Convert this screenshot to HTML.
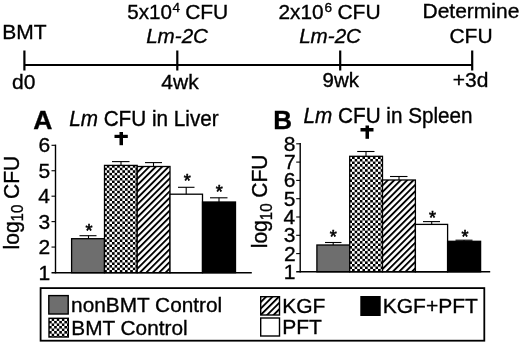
<!DOCTYPE html>
<html><head><meta charset="utf-8"><style>
html,body{margin:0;padding:0;background:#fff;width:520px;height:345px;overflow:hidden}
svg{display:block;will-change:transform}
text{font-family:"Liberation Sans",sans-serif;fill:#000;stroke:#000;stroke-width:0.35px}
.it{font-style:italic}
.bd{font-weight:bold}
</style></head><body>
<svg width="520" height="345" viewBox="0 0 520 345">
<defs>
<pattern id="chkA" patternUnits="userSpaceOnUse" width="5.2" height="5.12" x="0.2" y="3.88">
<rect width="5.2" height="5.12" fill="#fff"/>
<rect width="2.6" height="2.56" fill="#000"/>
<rect x="2.6" y="2.56" width="2.6" height="2.56" fill="#000"/>
</pattern>
<pattern id="chkB" patternUnits="userSpaceOnUse" width="5.2" height="5.12" x="1.05" y="0.25">
<rect width="5.2" height="5.12" fill="#fff"/>
<rect width="2.6" height="2.56" fill="#000"/>
<rect x="2.6" y="2.56" width="2.6" height="2.56" fill="#000"/>
</pattern>
<pattern id="chkL" patternUnits="userSpaceOnUse" width="5.1" height="5.1" x="3.2" y="4.7">
<rect width="5.1" height="5.1" fill="#fff"/>
<rect width="2.55" height="2.55" fill="#000"/>
<rect x="2.55" y="2.55" width="2.55" height="2.55" fill="#000"/>
</pattern>
<pattern id="hatA" patternUnits="userSpaceOnUse" width="4.545" height="10" x="4.385" patternTransform="rotate(45)">
<rect width="4.545" height="10" fill="#fff"/>
<rect width="1.9" height="10" fill="#000"/>
</pattern>
<pattern id="hatB" patternUnits="userSpaceOnUse" width="4.545" height="10" x="0.73" patternTransform="rotate(45)">
<rect width="4.545" height="10" fill="#fff"/>
<rect width="1.9" height="10" fill="#000"/>
</pattern>
<pattern id="hatL" patternUnits="userSpaceOnUse" width="4.545" height="10" x="1.63" patternTransform="rotate(45)">
<rect width="4.545" height="10" fill="#fff"/>
<rect width="1.9" height="10" fill="#000"/>
</pattern>
</defs>
<line x1="24.4" y1="65" x2="472.2" y2="65" stroke="#000" stroke-width="2.2"/>
<line x1="24.4" y1="50.5" x2="24.4" y2="70.5" stroke="#000" stroke-width="2.2"/>
<line x1="177.3" y1="50.5" x2="177.3" y2="70.5" stroke="#000" stroke-width="2.2"/>
<line x1="340.2" y1="50.5" x2="340.2" y2="70.5" stroke="#000" stroke-width="2.2"/>
<line x1="472.2" y1="50.5" x2="472.2" y2="70.5" stroke="#000" stroke-width="2.2"/>
<text transform="translate(2.28,39.00) scale(1,1.0)" font-size="21">BMT</text>
<text transform="translate(127.18,18.50) scale(1,1.0)" font-size="20.6">5x10</text>
<text transform="translate(172.39,12.20) scale(1,1.0)" font-size="13.6">4</text>
<text transform="translate(185.13,18.50) scale(1,1.0)" font-size="21">CFU</text>
<text transform="translate(146.17,43.20) scale(1,1.0)" font-size="20.6" class="it">Lm-2C</text>
<text transform="translate(278.45,18.50) scale(1,1.0)" font-size="20.8">2x10</text>
<text transform="translate(324.51,12.20) scale(1,1.0)" font-size="13.6">6</text>
<text transform="translate(337.43,18.50) scale(1,1.0)" font-size="21">CFU</text>
<text transform="translate(299.17,43.20) scale(1,1.0)" font-size="20.6" class="it">Lm-2C</text>
<text transform="translate(422.48,18.30) scale(1,1.0)" font-size="21">Determine</text>
<text transform="translate(449.43,43.20) scale(1,1.0)" font-size="21">CFU</text>
<text transform="translate(12.12,88.50) scale(1,1.0)" font-size="21">d0</text>
<text transform="translate(161.32,88.50) scale(1,1.0)" font-size="21">4wk</text>
<text transform="translate(322.54,87.20) scale(1,1.0)" font-size="20.5">9wk</text>
<text transform="translate(452.77,87.20) scale(1,1.0)" font-size="21">+3d</text>
<text transform="translate(33.34,128.80) scale(1,1.0)" font-size="26.5" class="bd">A</text>
<text transform="translate(69.16,125.50) scale(1,1.055)" font-size="20.7"><tspan class="it">Lm</tspan> CFU in Liver</text>
<text transform="translate(18.5,249.42) rotate(-90) scale(1,1.04)" font-size="21">log<tspan font-size="15" dy="4.7">10</tspan><tspan dy="-4.7"> CFU</tspan></text>
<text transform="translate(38.44,152.30) scale(1,1.0)" font-size="21">6</text>
<text transform="translate(38.40,177.74) scale(1,1.0)" font-size="21">5</text>
<text transform="translate(38.14,203.18) scale(1,1.0)" font-size="21">4</text>
<text transform="translate(38.44,228.62) scale(1,1.0)" font-size="21">3</text>
<text transform="translate(38.58,254.06) scale(1,1.0)" font-size="21">2</text>
<text transform="translate(38.55,279.50) scale(1,1.0)" font-size="21">1</text>
<line x1="55.5" y1="144.6" x2="55.5" y2="273.4" stroke="#000" stroke-width="1.4"/>
<line x1="51.5" y1="145.3" x2="55.5" y2="145.3" stroke="#000" stroke-width="1.1"/>
<line x1="51.5" y1="170.74" x2="55.5" y2="170.74" stroke="#000" stroke-width="1.1"/>
<line x1="51.5" y1="196.18" x2="55.5" y2="196.18" stroke="#000" stroke-width="1.1"/>
<line x1="51.5" y1="221.62" x2="55.5" y2="221.62" stroke="#000" stroke-width="1.1"/>
<line x1="51.5" y1="247.06" x2="55.5" y2="247.06" stroke="#000" stroke-width="1.1"/>
<rect x="71.6" y="238.7" width="32.90" height="34.00" fill="#6e6e6e" stroke="#000" stroke-width="1.3"/>
<rect x="104.5" y="165.4" width="32.70" height="107.30" fill="url(#chkA)" stroke="#000" stroke-width="1.3"/>
<rect x="137.2" y="166.5" width="32.80" height="106.20" fill="url(#hatA)" stroke="#000" stroke-width="1.3"/>
<rect x="170" y="194.2" width="32.50" height="78.50" fill="#fff" stroke="#000" stroke-width="1.3"/>
<rect x="202.5" y="202" width="33.00" height="70.70" fill="#000" stroke="#000" stroke-width="1.3"/>
<line x1="51.5" y1="272.8" x2="251.8" y2="272.8" stroke="#000" stroke-width="1.6"/>
<line x1="79.5" y1="235.7" x2="96.5" y2="235.7" stroke="#000" stroke-width="1.1"/>
<line x1="88.5" y1="235.7" x2="88.5" y2="238.7" stroke="#000" stroke-width="1.1"/>
<line x1="112" y1="161.6" x2="129.5" y2="161.6" stroke="#000" stroke-width="1.1"/>
<line x1="121" y1="161.6" x2="121" y2="165.4" stroke="#000" stroke-width="1.1"/>
<line x1="145" y1="162.6" x2="162" y2="162.6" stroke="#000" stroke-width="1.1"/>
<line x1="153.5" y1="162.6" x2="153.5" y2="166.5" stroke="#000" stroke-width="1.1"/>
<line x1="178" y1="187.3" x2="194.5" y2="187.3" stroke="#000" stroke-width="1.1"/>
<line x1="186.2" y1="187.3" x2="186.2" y2="194.2" stroke="#000" stroke-width="1.1"/>
<line x1="210" y1="197.8" x2="227.5" y2="197.8" stroke="#000" stroke-width="1.1"/>
<line x1="219" y1="197.8" x2="219" y2="202" stroke="#000" stroke-width="1.1"/>
<text x="85.39" y="236.88" font-size="18" style="stroke-width:0.6px">*</text>
<text x="183.69" y="186.88" font-size="18" style="stroke-width:0.6px">*</text>
<text x="215.69" y="198.38" font-size="18" style="stroke-width:0.6px">*</text>
<rect x="119.5" y="132" width="3.50" height="13.20" fill="#000"/>
<rect x="114.5" y="134.8" width="13.30" height="3.20" fill="#000"/>
<text transform="translate(273.26,128.50) scale(1,1.0)" font-size="26" class="bd">B</text>
<text transform="translate(303.56,122.50) scale(1,1.055)" font-size="20.7"><tspan class="it">Lm</tspan> CFU in Spleen</text>
<text transform="translate(267,248.22) rotate(-90) scale(1,1.04)" font-size="21">log<tspan font-size="15" dy="4.7">10</tspan><tspan dy="-4.7"> CFU</tspan></text>
<text transform="translate(283.73,150.80) scale(1,1.0)" font-size="21">8</text>
<text transform="translate(283.88,169.10) scale(1,1.0)" font-size="21">7</text>
<text transform="translate(283.74,187.40) scale(1,1.0)" font-size="21">6</text>
<text transform="translate(283.70,205.70) scale(1,1.0)" font-size="21">5</text>
<text transform="translate(283.44,224.00) scale(1,1.0)" font-size="21">4</text>
<text transform="translate(283.74,242.30) scale(1,1.0)" font-size="21">3</text>
<text transform="translate(283.88,260.60) scale(1,1.0)" font-size="21">2</text>
<text transform="translate(283.85,278.90) scale(1,1.0)" font-size="21">1</text>
<line x1="300.2" y1="143.1" x2="300.2" y2="272.5" stroke="#000" stroke-width="1.4"/>
<line x1="296.2" y1="143.8" x2="300.2" y2="143.8" stroke="#000" stroke-width="1.1"/>
<line x1="296.2" y1="162.1" x2="300.2" y2="162.1" stroke="#000" stroke-width="1.1"/>
<line x1="296.2" y1="180.4" x2="300.2" y2="180.4" stroke="#000" stroke-width="1.1"/>
<line x1="296.2" y1="198.7" x2="300.2" y2="198.7" stroke="#000" stroke-width="1.1"/>
<line x1="296.2" y1="217.0" x2="300.2" y2="217.0" stroke="#000" stroke-width="1.1"/>
<line x1="296.2" y1="235.3" x2="300.2" y2="235.3" stroke="#000" stroke-width="1.1"/>
<line x1="296.2" y1="253.6" x2="300.2" y2="253.6" stroke="#000" stroke-width="1.1"/>
<rect x="316.9" y="245.0" width="32.80" height="26.80" fill="#6e6e6e" stroke="#000" stroke-width="1.3"/>
<rect x="349.7" y="156.3" width="32.80" height="115.50" fill="url(#chkB)" stroke="#000" stroke-width="1.3"/>
<rect x="382.5" y="180" width="32.90" height="91.80" fill="url(#hatB)" stroke="#000" stroke-width="1.3"/>
<rect x="415.4" y="224.4" width="32.20" height="47.40" fill="#fff" stroke="#000" stroke-width="1.3"/>
<rect x="447.6" y="241.3" width="33.00" height="30.50" fill="#000" stroke="#000" stroke-width="1.3"/>
<line x1="296.2" y1="271.8" x2="490.2" y2="271.8" stroke="#000" stroke-width="1.6"/>
<line x1="325" y1="242.5" x2="341.5" y2="242.5" stroke="#000" stroke-width="1.1"/>
<line x1="333.2" y1="242.5" x2="333.2" y2="245.0" stroke="#000" stroke-width="1.1"/>
<line x1="357.2" y1="151.5" x2="374.5" y2="151.5" stroke="#000" stroke-width="1.1"/>
<line x1="366" y1="151.5" x2="366" y2="156.3" stroke="#000" stroke-width="1.1"/>
<line x1="390" y1="176.5" x2="407.5" y2="176.5" stroke="#000" stroke-width="1.1"/>
<line x1="399" y1="176.5" x2="399" y2="180" stroke="#000" stroke-width="1.1"/>
<line x1="423" y1="221.6" x2="440" y2="221.6" stroke="#000" stroke-width="1.1"/>
<line x1="431.7" y1="221.6" x2="431.7" y2="224.4" stroke="#000" stroke-width="1.1"/>
<line x1="455.5" y1="240.2" x2="472.5" y2="240.2" stroke="#000" stroke-width="1.1"/>
<line x1="464" y1="240.2" x2="464" y2="241.3" stroke="#000" stroke-width="1.1"/>
<text x="329.69" y="242.78" font-size="18" style="stroke-width:0.6px">*</text>
<text x="428.99" y="223.88" font-size="18" style="stroke-width:0.6px">*</text>
<text x="461.49" y="242.98" font-size="18" style="stroke-width:0.6px">*</text>
<rect x="365.5" y="125.5" width="3.50" height="13.30" fill="#000"/>
<rect x="360.5" y="128" width="13.00" height="3.50" fill="#000"/>
<rect x="40.6" y="288.1" width="443.7" height="52.6" fill="none" stroke="#000" stroke-width="1.8"/>
<rect x="48.8" y="295.6" width="19.40" height="18.40" fill="#6e6e6e" stroke="#000" stroke-width="1.4"/>
<rect x="49.0" y="318.3" width="19.30" height="18.70" fill="url(#chkL)" stroke="#000" stroke-width="1.4"/>
<rect x="260.7" y="296.7" width="18.80" height="18.30" fill="url(#hatL)" stroke="#000" stroke-width="1.4"/>
<rect x="260.7" y="318.0" width="18.80" height="18.00" fill="#fff" stroke="#000" stroke-width="1.4"/>
<rect x="361.0" y="296.7" width="19.00" height="18.60" fill="#000" stroke="#000" stroke-width="1.4"/>
<text transform="translate(71.12,312.00) scale(1,1.0)" font-size="20.8">nonBMT Control</text>
<text transform="translate(71.29,334.50) scale(1,1.0)" font-size="20.8">BMT Control</text>
<text transform="translate(282.28,312.80) scale(1,1.0)" font-size="21">KGF</text>
<text transform="translate(282.28,333.50) scale(1,1.0)" font-size="21">PFT</text>
<text transform="translate(382.78,312.50) scale(1,1.0)" font-size="21">KGF+PFT</text>
</svg>
</body></html>
